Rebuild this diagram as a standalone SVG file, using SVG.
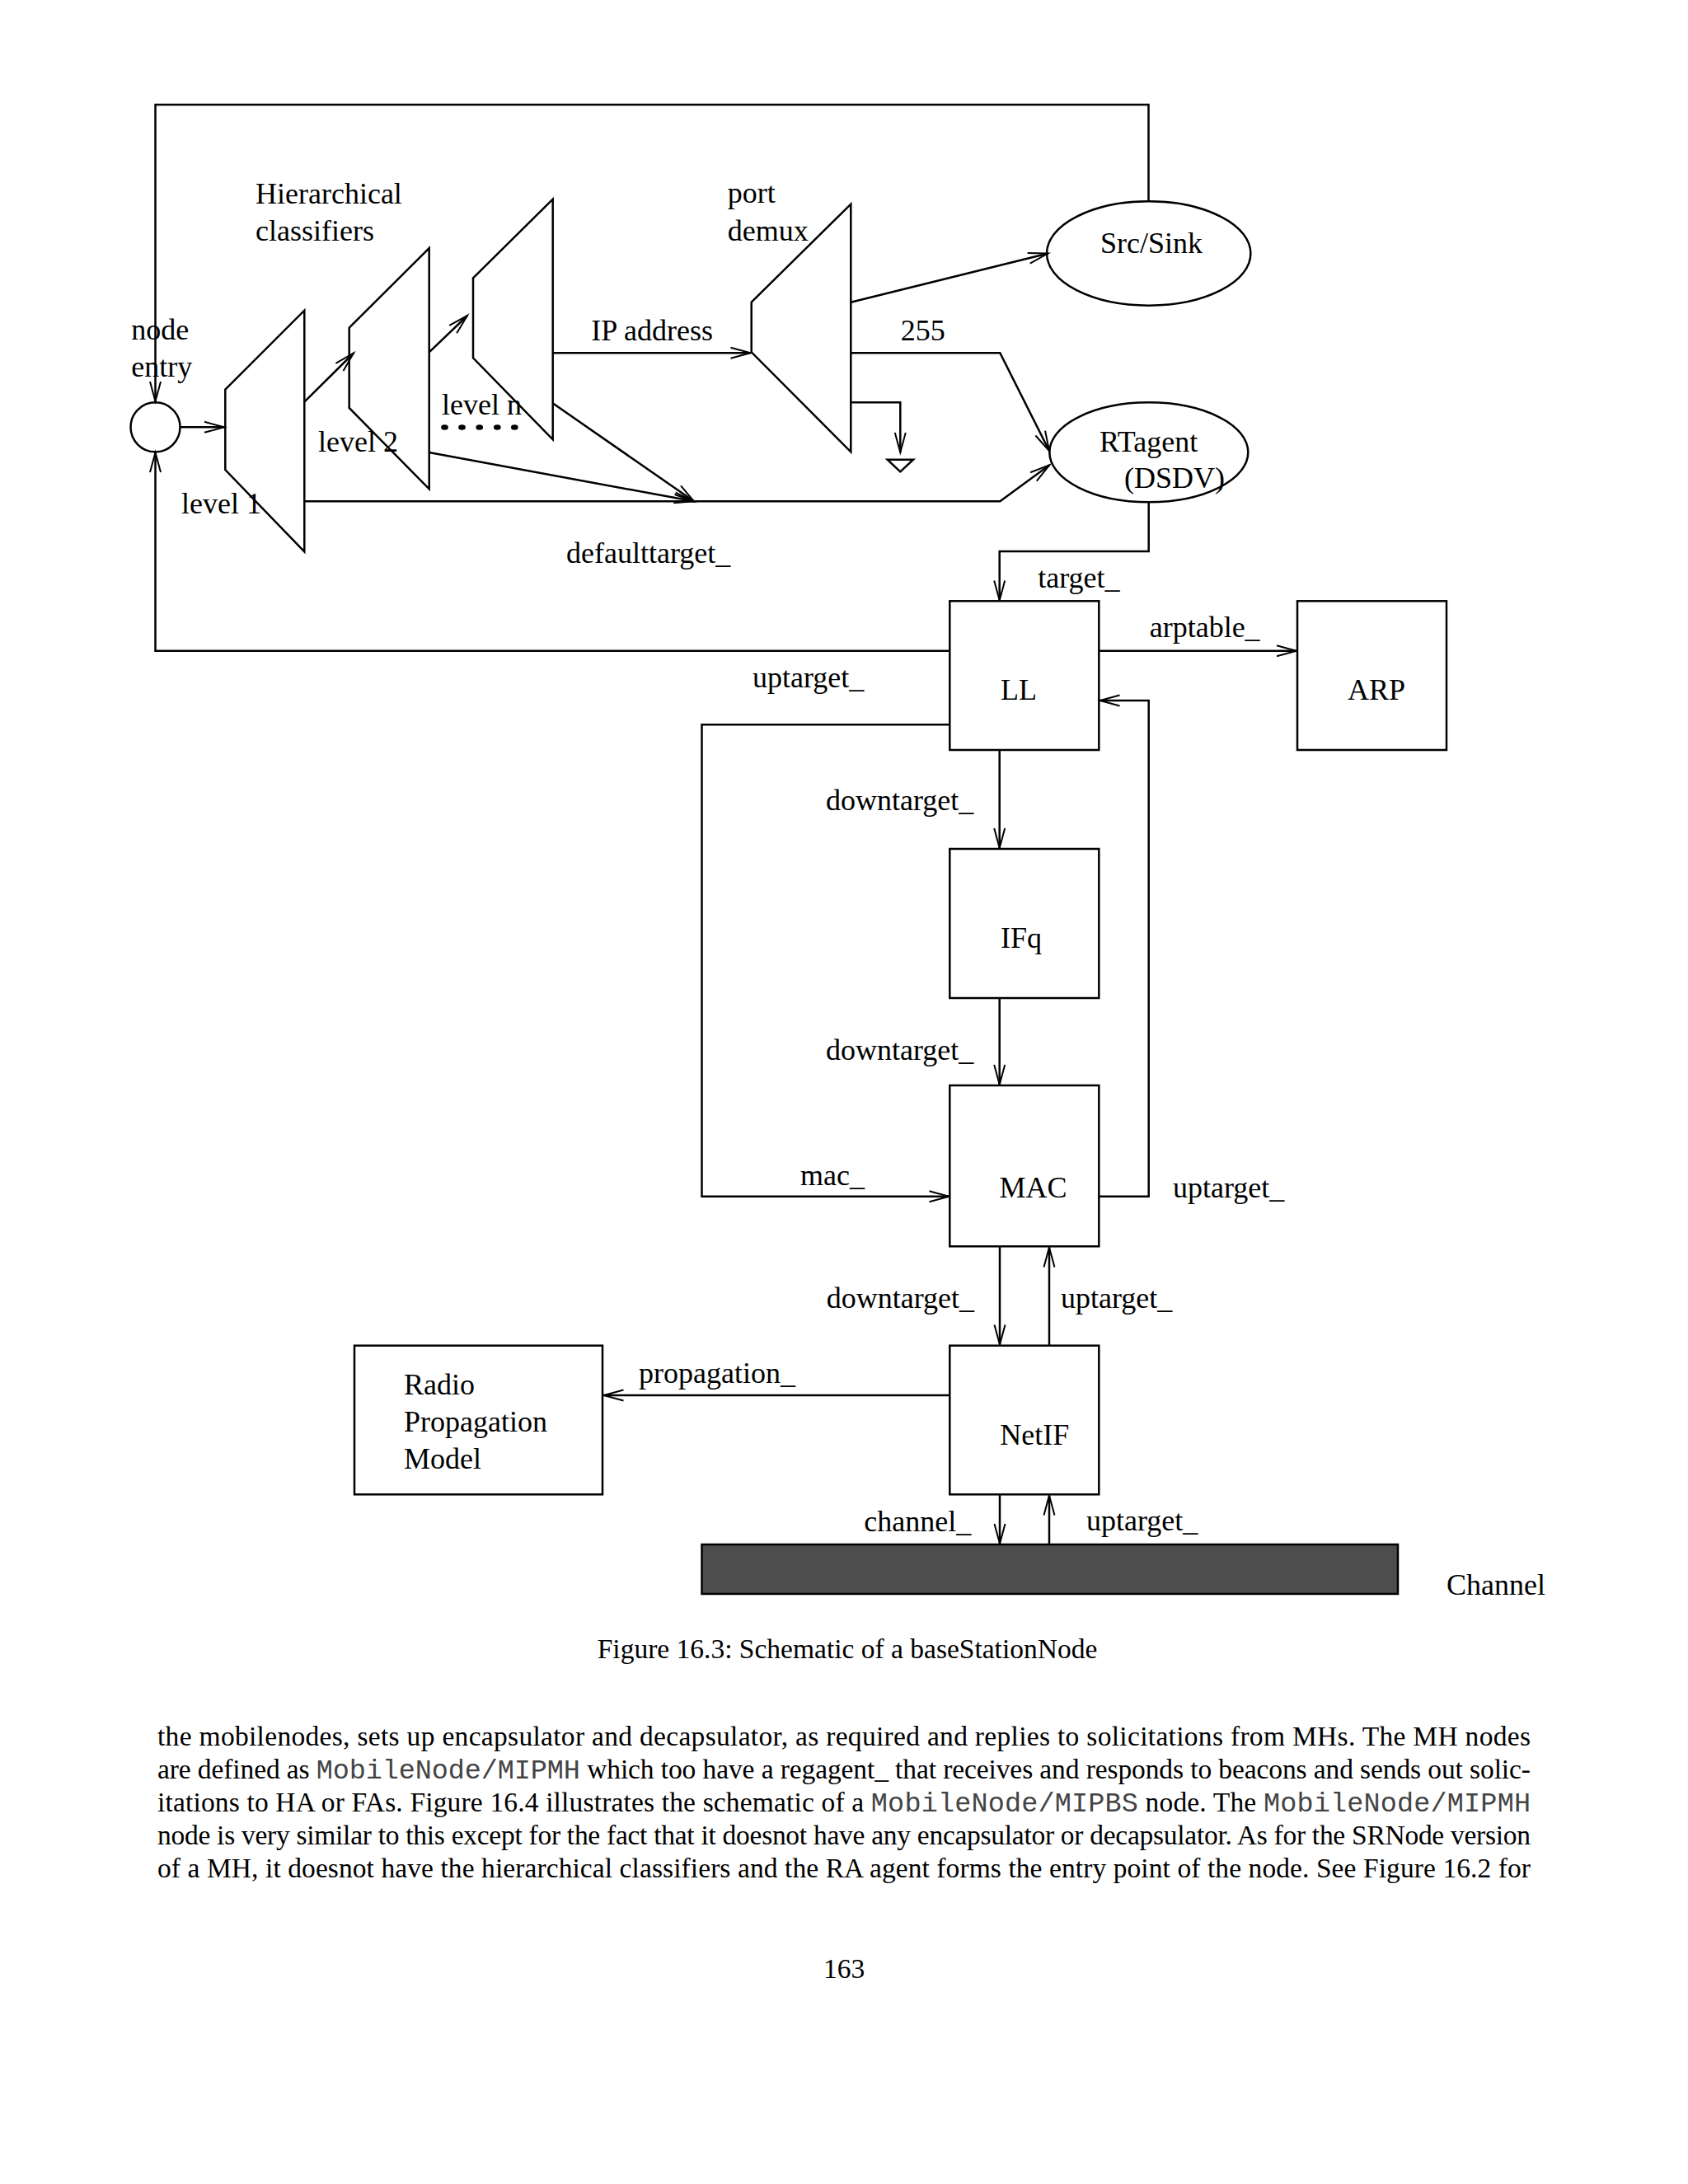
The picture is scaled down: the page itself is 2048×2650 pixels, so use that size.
<svg xmlns="http://www.w3.org/2000/svg" width="2048" height="2650" viewBox="0 0 2048 2650">
<style>
.shape{fill:none;stroke:#000;stroke-width:2.5}
.box{fill:#fff;stroke:#000;stroke-width:2.5}
.con{fill:none;stroke:#000;stroke-width:2.5}
.arr{marker-end:url(#arrow)}
.lbl{font-family:"Liberation Serif","Times New Roman",serif;font-size:36px;fill:#000}
.body{font-family:"Liberation Serif","Times New Roman",serif;font-size:33.5px;fill:#000}
.mono{font-family:"Liberation Mono","Courier New",monospace;fill:#444}
</style>
<defs>
<marker id="arrow" markerUnits="userSpaceOnUse" markerWidth="26" markerHeight="16" refX="24" refY="7" orient="auto" overflow="visible">
<path d="M0,0.5 L24,7 L0,13.5" fill="none" stroke="#000" stroke-width="2"/>
</marker>
</defs>
<rect width="2048" height="2650" fill="#fff"/>

<g id="connectors">
<path class="con arr" d="M1393.5,244 V127 H188.5 V487"/>
<path class="con arr" d="M1152.3,789.7 H188.5 V549"/>
<path class="con arr" d="M219,518.3 H272"/>
<path class="con arr" d="M369.3,487.7 L429,428.5"/>
<path class="con arr" d="M520.7,427.3 L567,383"/>
<path class="con arr" d="M670.7,428.3 H910.5"/>
<path class="con arr" d="M1032.3,366.7 L1271.5,307.5"/>
<path class="con arr" d="M1032.3,428.3 H1213.3 L1273,547"/>
<path class="con arr" d="M1032.3,488.3 H1092.3 V549"/>
<path class="con arr" d="M369.3,608.3 H1213.3 L1273.3,564.3"/>
<path class="con arr" d="M520.7,549 L842,608.3"/>
<path class="con arr" d="M670.7,489.3 L842,608.3"/>
<path class="con arr" d="M1393.7,609.3 V669 H1212.7 V728.5"/>
<path class="con arr" d="M1333.3,789.7 H1573"/>
<path class="con arr" d="M1152.3,879.3 H851.5 V1451.7 H1151.5"/>
<path class="con arr" d="M1333.3,1451.7 H1393.7 V850 H1334.5"/>
<path class="con arr" d="M1212.7,910 V1029"/>
<path class="con arr" d="M1212.7,1211 V1316"/>
<path class="con arr" d="M1213,1512.3 V1631.5"/>
<path class="con arr" d="M1273,1632.7 V1513.5"/>
<path class="con arr" d="M1152.3,1693 H732.5"/>
<path class="con arr" d="M1213,1813.3 V1873"/>
<path class="con arr" d="M1273,1874 V1814.5"/>
</g>

<g id="node-entry">
<circle class="shape" cx="188.5" cy="518.3" r="30"/>
<text class="lbl" x="159.3" y="412.3">node</text>
<text class="lbl" x="159.3" y="457">entry</text>
</g>

<g id="classifiers-title">
<text class="lbl" x="310" y="247">Hierarchical</text>
<text class="lbl" x="310" y="292">classifiers</text>
</g>

<g id="level1">
<polygon class="shape" points="273.3,472.7 369.3,376.7 369.3,669.3 273.3,570"/>
<text class="lbl" x="220" y="623.3">level 1</text>
</g>

<g id="level2">
<polygon class="shape" points="423.7,397.7 520.7,301 520.7,593.3 423.7,495"/>
<text class="lbl" x="386" y="548.3">level 2</text>
</g>

<g id="leveln">
<polygon class="shape" points="574,337.3 670.7,241.7 670.7,533.3 574,434.3"/>
<text class="lbl" x="536" y="503.3">level n</text>
<g fill="#000">
<ellipse cx="539.5" cy="518.5" rx="4.3" ry="3.3"/>
<ellipse cx="560.5" cy="518.5" rx="4.3" ry="3.3"/>
<ellipse cx="581.7" cy="518.5" rx="4.3" ry="3.3"/>
<ellipse cx="603.3" cy="518.5" rx="4.3" ry="3.3"/>
<ellipse cx="624.3" cy="518.5" rx="4.3" ry="3.3"/>
</g>
</g>

<g id="port-demux">
<polygon class="shape" points="911.7,366.7 1032.3,247.7 1032.3,548.3 911.7,427.3"/>
<text class="lbl" x="882.7" y="246">port</text>
<text class="lbl" x="882.7" y="292.3">demux</text>
</g>

<g id="edge-labels-top">
<text class="lbl" x="717.3" y="412.7">IP address</text>
<text class="lbl" x="1092.7" y="412.7">255</text>
<text class="lbl" x="687" y="683">defaulttarget_</text>
</g>

<g id="null-sink">
<polygon class="shape" points="1076.7,557.7 1108,557.7 1092.3,572.3"/>
</g>

<g id="src-sink">
<ellipse class="shape" cx="1393.7" cy="307.5" rx="123.7" ry="63.2"/>
<text class="lbl" x="1335" y="307.3">Src/Sink</text>
</g>

<g id="rtagent">
<ellipse class="shape" cx="1393.8" cy="548.8" rx="120.5" ry="60.5"/>
<text class="lbl" x="1334" y="548.3">RTagent</text>
<text class="lbl" x="1364" y="591.7">(DSDV)</text>
</g>

<g id="ll">
<rect class="box" x="1152.3" y="729.3" width="181" height="180.7"/>
<text class="lbl" x="1214" y="849.3">LL</text>
</g>

<g id="arp">
<rect class="box" x="1574" y="729.3" width="181" height="180.7"/>
<text class="lbl" x="1635" y="849.3">ARP</text>
</g>

<g id="ifq">
<rect class="box" x="1152.3" y="1030" width="181" height="181"/>
<text class="lbl" x="1214" y="1149.5">IFq</text>
</g>

<g id="mac">
<rect class="box" x="1152.3" y="1317" width="181" height="195.3"/>
<text class="lbl" x="1212.5" y="1453">MAC</text>
</g>

<g id="netif">
<rect class="box" x="1152.3" y="1632.7" width="181" height="180.6"/>
<text class="lbl" x="1213.3" y="1752.7">NetIF</text>
</g>

<g id="radio-propagation-model">
<rect class="box" x="430" y="1632.7" width="301" height="180.6"/>
<text class="lbl" x="490" y="1692">Radio</text>
<text class="lbl" x="490" y="1737">Propagation</text>
<text class="lbl" x="490" y="1782">Model</text>
</g>

<g id="channel">
<rect x="851.5" y="1874" width="844.5" height="60" fill="#4d4d4d" stroke="#000" stroke-width="2.5"/>
<text class="lbl" x="1755" y="1935">Channel</text>
</g>

<g id="edge-labels-bottom">
<text class="lbl" x="1259.3" y="713.3">target_</text>
<text class="lbl" x="1394.7" y="773.3">arptable_</text>
<text class="lbl" x="913" y="833.5">uptarget_</text>
<text class="lbl" x="1002" y="983">downtarget_</text>
<text class="lbl" x="1002" y="1286">downtarget_</text>
<text class="lbl" x="971" y="1437.5">mac_</text>
<text class="lbl" x="1423" y="1453">uptarget_</text>
<text class="lbl" x="1002.7" y="1586.7">downtarget_</text>
<text class="lbl" x="1287" y="1587">uptarget_</text>
<text class="lbl" x="775" y="1677.7">propagation_</text>
<text class="lbl" x="1048.3" y="1858.3">channel_</text>
<text class="lbl" x="1318" y="1857">uptarget_</text>
</g>

<g id="caption">
<text class="body" x="1028" y="2012" text-anchor="middle">Figure 16.3: Schematic of a baseStationNode</text>
</g>

<g id="body-text">
<text class="body" x="191" y="2118" textLength="1666" lengthAdjust="spacing">the mobilenodes, sets up encapsulator and decapsulator, as required and replies to solicitations from MHs.  The MH nodes</text>
<text class="body" x="191" y="2158" textLength="1666" lengthAdjust="spacing">are defined as <tspan class="mono">MobileNode/MIPMH</tspan> which too have a regagent_ that receives and responds to beacons and sends out solic-</text>
<text class="body" x="191" y="2198" textLength="1666" lengthAdjust="spacing">itations to HA or FAs. Figure 16.4 illustrates the schematic of a <tspan class="mono">MobileNode/MIPBS</tspan> node. The <tspan class="mono">MobileNode/MIPMH</tspan></text>
<text class="body" x="191" y="2238" textLength="1666" lengthAdjust="spacing">node is very similar to this except for the fact that it doesnot have any encapsulator or decapsulator. As for the SRNode version</text>
<text class="body" x="191" y="2278" textLength="1666" lengthAdjust="spacing">of a MH, it doesnot have the hierarchical classifiers and the RA agent forms the entry point of the node. See Figure 16.2 for</text>
<text class="body" x="1024" y="2400" text-anchor="middle">163</text>
</g>
</svg>
